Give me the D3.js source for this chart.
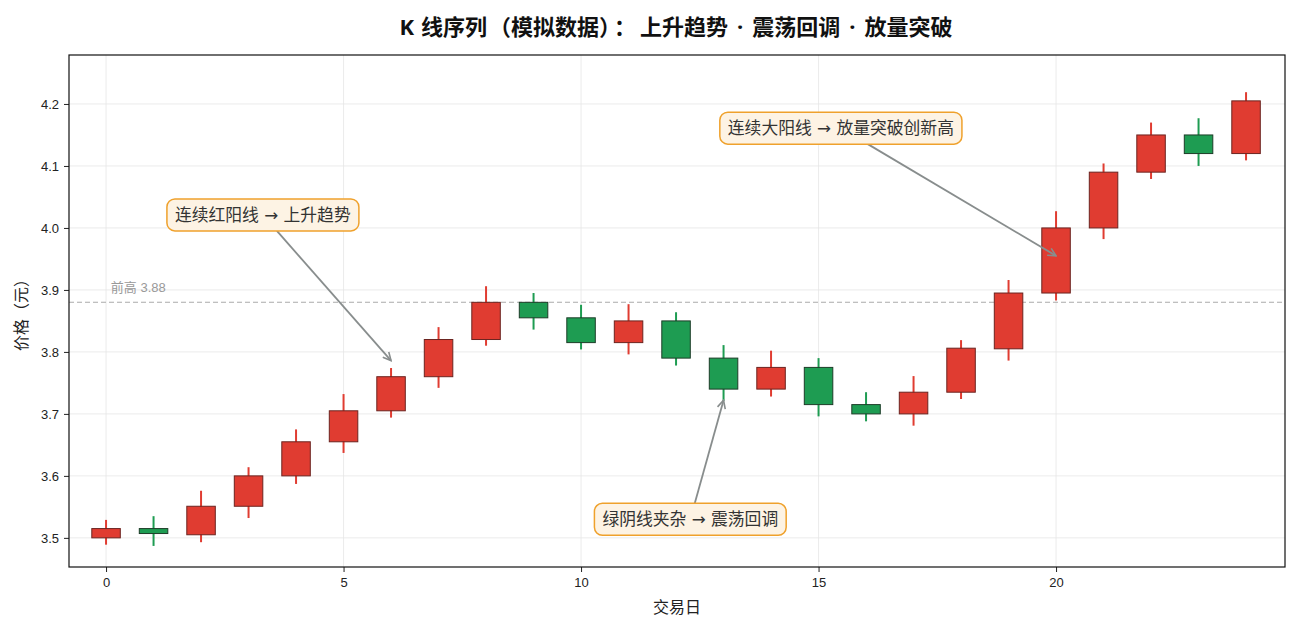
<!DOCTYPE html>
<html>
<head>
<meta charset="utf-8">
<title>K 线序列</title>
<script src="https://d3js.org/d3.v7.min.js"></script>
<style>
  body { margin: 0; background: #fff; }
  svg text { font-family: "Noto Sans", "Noto Sans CJK SC", sans-serif; }
</style>
</head>
<body>
<svg id="chart" width="1300" height="630"></svg>
<script>
// 交易日 0..24 的 OHLC
const days   = d3.range(25);
const opens  = [3.500, 3.515, 3.505, 3.551, 3.600, 3.655, 3.705, 3.760, 3.820, 3.880, 3.855, 3.815, 3.850,
                3.790, 3.740, 3.775, 3.715, 3.700, 3.735, 3.805, 3.895, 4.000, 4.090, 4.150, 4.120];
const closes = [3.515, 3.507, 3.551, 3.600, 3.655, 3.705, 3.760, 3.820, 3.880, 3.855, 3.815, 3.850, 3.790,
                3.740, 3.775, 3.715, 3.700, 3.735, 3.806, 3.895, 4.000, 4.090, 4.150, 4.120, 4.205];
const highs  = [3.529, 3.535, 3.576, 3.614, 3.675, 3.732, 3.774, 3.840, 3.906, 3.895, 3.876, 3.877, 3.864,
                3.811, 3.802, 3.790, 3.735, 3.761, 3.819, 3.916, 4.027, 4.104, 4.170, 4.177, 4.219];
const lows   = [3.489, 3.487, 3.493, 3.532, 3.587, 3.637, 3.694, 3.742, 3.810, 3.836, 3.804, 3.796, 3.778,
                3.721, 3.728, 3.696, 3.688, 3.681, 3.724, 3.786, 3.883, 3.982, 4.079, 4.100, 4.109];

const xTicks = [0, 5, 10, 15, 20];
const yTicks = [3.5, 3.6, 3.7, 3.8, 3.9, 4.0, 4.1, 4.2];
const prevHigh = 3.88;

const notes = [
  { text: "连续红阳线 → 上升趋势",       tx: 3.3,   ty: 4.021, ax: 6,  ay: 3.786 },
  { text: "绿阴线夹杂 → 震荡回调",       tx: 12.3,  ty: 3.530, ax: 13, ay: 3.722 },
  { text: "连续大阳线 → 放量突破创新高", tx: 15.47, ty: 4.161, ax: 20, ay: 3.955 }
];

// title pieces, dx = extra gap before the piece
const titleParts = [["K", 0], [" 线序列", 1], ["（", 2], ["模拟数据）", 0], ["：", 4], ["上升趋势", 4],
                    ["·", 9], ["震荡回调", 9], ["·", 9], ["放量突破", 9]];

const candles = days.map((d, i) => ({ day: d, o: opens[i], c: closes[i], h: highs[i], l: lows[i] }));

const svg = d3.select("#chart");
const m = { left: 69, right: 1285, top: 55, bottom: 567 };

const x = d3.scaleLinear().domain([-0.78, 24.82]).range([m.left, m.right]);
const y = d3.scaleLinear().domain([3.453, 4.279]).range([m.bottom, m.top]);

const UP = "#e03c31", DOWN = "#1e9c52";
const latin = "'Liberation Sans', Arial, sans-serif";

// grid
svg.append("g").selectAll("line").data(xTicks).join("line")
  .attr("x1", d => x(d)).attr("x2", d => x(d))
  .attr("y1", m.top).attr("y2", m.bottom)
  .attr("stroke", "#e6e6e6").attr("stroke-width", 0.8);
svg.append("g").selectAll("line").data(yTicks).join("line")
  .attr("x1", m.left).attr("x2", m.right)
  .attr("y1", d => y(d)).attr("y2", d => y(d))
  .attr("stroke", "#e6e6e6").attr("stroke-width", 0.8);

// previous high line
svg.append("line")
  .attr("x1", m.left).attr("x2", m.right)
  .attr("y1", y(prevHigh)).attr("y2", y(prevHigh))
  .attr("stroke", "#aaaaaa").attr("stroke-width", 1.1)
  .attr("stroke-dasharray", "5,3");
svg.append("text")
  .attr("x", x(0.1)).attr("y", y(prevHigh) - 10)
  .attr("font-size", 13).attr("fill", "#999")
  .style("font-family", "'Liberation Sans', 'Noto Sans CJK SC', sans-serif")
  .text("前高 " + prevHigh.toFixed(2));

// candles
const bw = x(0.6) - x(0);
const g = svg.append("g").selectAll("g").data(candles).join("g");
g.append("line")
  .attr("x1", d => x(d.day)).attr("x2", d => x(d.day))
  .attr("y1", d => y(d.h)).attr("y2", d => y(d.l))
  .attr("stroke", d => d.c >= d.o ? UP : DOWN).attr("stroke-width", 2);
g.append("rect")
  .attr("x", d => x(d.day) - bw / 2).attr("width", bw)
  .attr("y", d => y(Math.max(d.o, d.c)))
  .attr("height", d => Math.max(1, Math.abs(y(d.o) - y(d.c))))
  .attr("fill", d => d.c >= d.o ? UP : DOWN)
  .attr("stroke", d => d.c >= d.o ? "#6b2420" : "#1d3d28").attr("stroke-width", 1);

// axes
const xAxis = d3.axisBottom(x).tickValues(xTicks).tickSize(5).tickPadding(6).tickFormat(d3.format("d"));
const yAxis = d3.axisLeft(y).tickValues(yTicks).tickSize(5).tickPadding(5).tickFormat(d3.format(".1f"));
const gx = svg.append("g").attr("transform", `translate(0,${m.bottom})`).call(xAxis);
const gy = svg.append("g").attr("transform", `translate(${m.left},0)`).call(yAxis);
[gx, gy].forEach(a => {
  a.select(".domain").remove();
  a.selectAll("text").attr("font-size", 13).attr("fill", "#222").style("font-family", latin);
  a.selectAll("line").attr("stroke", "#222");
});

// frame
svg.append("rect")
  .attr("x", m.left).attr("y", m.top)
  .attr("width", m.right - m.left).attr("height", m.bottom - m.top)
  .attr("fill", "none").attr("stroke", "#111").attr("stroke-width", 1.2);

// annotations
svg.append("defs").append("marker").attr("id", "arr")
  .attr("viewBox", "0 0 10 10").attr("refX", 9).attr("refY", 5)
  .attr("markerWidth", 10).attr("markerHeight", 10).attr("orient", "auto")
  .attr("markerUnits", "userSpaceOnUse")
  .append("path").attr("d", "M1,1 L9,5 L1,9")
  .attr("fill", "none").attr("stroke", "#888d8d").attr("stroke-width", 1.6);

const ng = svg.append("g");
notes.forEach(n => {
  const t = ng.append("text")
    .attr("x", x(n.tx)).attr("y", y(n.ty))
    .attr("text-anchor", "middle").attr("dominant-baseline", "central")
    .attr("font-size", 16.8).attr("fill", "#333")
    .style("font-family", "'DejaVu Sans', 'Noto Sans CJK SC', sans-serif")
    .text(n.text);
  const bb = t.node().getBBox();
  const padX = 8, padY = 6;
  const box = { x: bb.x - padX, y: bb.y - padY, w: bb.width + 2 * padX, h: bb.height + 2 * padY };
  const cx = x(n.tx), cy = y(n.ty), px = x(n.ax), py = y(n.ay);
  const dx = px - cx, dy = py - cy;
  const s = Math.min(Math.abs((box.w / 2) / dx), Math.abs((box.h / 2) / dy));
  ng.insert("line", "text")
    .attr("x1", cx + dx * s).attr("y1", cy + dy * s)
    .attr("x2", px).attr("y2", py)
    .attr("stroke", "#888d8d").attr("stroke-width", 1.8)
    .attr("marker-end", "url(#arr)");
  ng.insert("rect", "text")
    .attr("x", box.x).attr("y", box.y).attr("width", box.w).attr("height", box.h)
    .attr("rx", 8).attr("fill", "#fdf3e4").attr("stroke", "#efa12c").attr("stroke-width", 1.5);
});

// titles
const title = svg.append("text")
  .attr("x", 676).attr("y", 35)
  .attr("text-anchor", "middle").attr("font-size", 22).attr("font-weight", "bold").attr("fill", "#111")
  .attr("xml:space", "preserve");
title.selectAll("tspan").data(titleParts).join("tspan")
  .attr("dx", d => d[1]).text(d => d[0]);

svg.append("text")
  .attr("x", (m.left + m.right) / 2).attr("y", 613)
  .attr("text-anchor", "middle").attr("font-size", 16).attr("fill", "#222")
  .text("交易日");
svg.append("text")
  .attr("transform", `translate(27,${(m.top + m.bottom) / 2}) rotate(-90)`)
  .attr("text-anchor", "middle").attr("font-size", 16).attr("fill", "#222")
  .text("价格（元）");
</script>
</body>
</html>
